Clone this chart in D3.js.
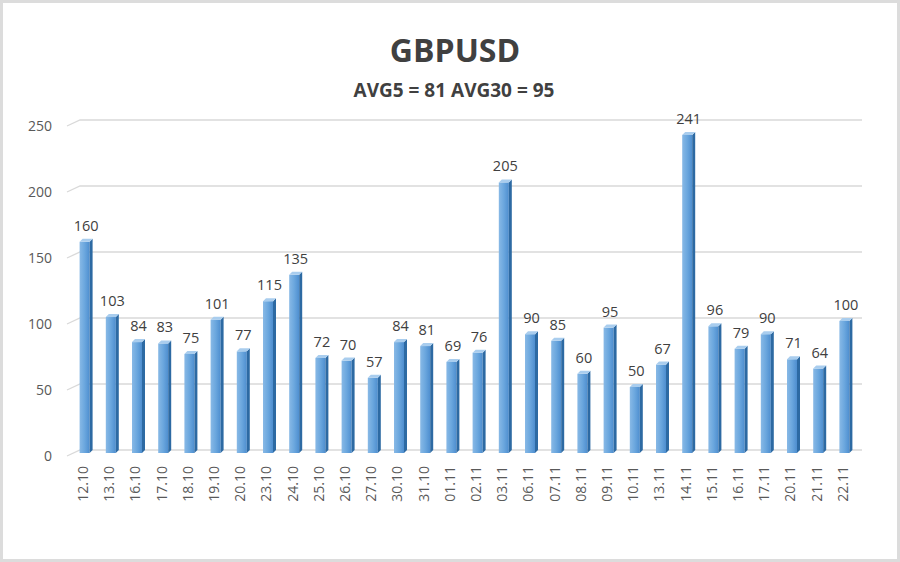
<!DOCTYPE html>
<html><head><meta charset="utf-8">
<script src="https://cdn.jsdelivr.net/npm/d3@7"></script>
<style>body{margin:0;background:#fff}svg{display:block}</style>
</head><body><svg id="c" width="900" height="562"></svg>
<script>
const categories = ["12.10","13.10","16.10","17.10","18.10","19.10","20.10","23.10","24.10","25.10","26.10","27.10","30.10","31.10","01.11","02.11","03.11","06.11","07.11","08.11","09.11","10.11","13.11","14.11","15.11","16.11","17.11","20.11","21.11","22.11"];
const values = [160,103,84,83,75,101,77,115,135,72,70,57,84,81,69,76,205,90,85,60,95,50,67,241,96,79,90,71,64,100];
const yTicks = [0,50,100,150,200,250];
const title = "GBPUSD";
const subtitle = "AVG5 = 81 AVG30 = 95";

const svg = d3.select("#c");
const W = 900, H = 562;
// frame
svg.append("rect").attr("x",1.5).attr("y",1.5).attr("width",W-3).attr("height",H-3)
  .attr("fill","#fff").attr("stroke","#dcdcdc").attr("stroke-width",3);

const defs = svg.append("defs");
const g1 = defs.append("linearGradient").attr("id","front").attr("x1","0").attr("x2","1").attr("y1","0").attr("y2","0");
g1.append("stop").attr("offset","0").attr("stop-color","#88b9e6");
g1.append("stop").attr("offset","0.5").attr("stop-color","#6ba7de");
g1.append("stop").attr("offset","1").attr("stop-color","#4e8ecf");

const x = d3.scaleBand().domain(categories).range([73,859]).paddingInner(0.6).paddingOuter(0.3);
const y = d3.scaleLinear().domain([0,250]).range([450,120]);
const dx = 6, dy = 6; // depth offset

// gridlines
const grid = svg.append("g");
yTicks.forEach(t => {
  const yy = y(t);
  grid.append("path")
    .attr("d", `M${67},${yy+dy} L${67+dx+7},${yy} L862,${yy}`)
    .attr("fill","none").attr("stroke", "#d9d9d9").attr("stroke-width", 1.3);
});

// y axis labels
svg.append("g").selectAll("text").data(yTicks).join("text")
  .attr("x", 52).attr("y", d => y(d)+dy).attr("dy","0.35em")
  .attr("text-anchor","end").attr("font-family","Open Sans, sans-serif")
  .attr("font-size",14).attr("fill","#595959").text(d=>d);

// bars
const bars = svg.append("g");
const bw = 10, sd = 3;
values.forEach((v,i) => {
  const c = x(categories[i]) + x.bandwidth()/2;
  const left = c - 6.5, right = left + bw;
  const top = y(v) + 3, bottom = y(0) + 3;
  bars.append("rect").attr("x",left).attr("y",top).attr("width",bw).attr("height",bottom-top).attr("fill","url(#front)");
  bars.append("path").attr("d",`M${right},${top} L${right+sd},${top-sd} L${right+sd},${bottom-sd} L${right},${bottom} Z`).attr("fill","#2d6aa3");
  bars.append("path").attr("d",`M${left},${top} L${left+sd},${top-sd} L${right+sd},${top-sd} L${right},${top} Z`).attr("fill","#a9cdee");
});

// value labels
svg.append("g").selectAll("text").data(values).join("text")
  .attr("x",(d,i)=> x(categories[i]) + x.bandwidth()/2)
  .attr("y", d => y(d) - 8)
  .attr("text-anchor","middle").attr("font-family","Open Sans, sans-serif")
  .attr("font-size",14.5).attr("fill","#404040").text(d=>d);

// x labels
svg.append("g").selectAll("text").data(categories).join("text")
  .attr("transform", d => `translate(${x(d)+x.bandwidth()/2 - 3},${466}) rotate(-90)`)
  .attr("text-anchor","end").attr("dy","0.35em")
  .attr("font-family","Open Sans, sans-serif").attr("font-size",14).attr("fill","#595959").text(d=>d);

// titles
svg.append("text").attr("x",455).attr("y",62).attr("text-anchor","middle")
  .attr("font-family","Open Sans, sans-serif").attr("font-weight","bold").attr("font-size",32)
  .attr("fill","#404040").text(title);
svg.append("text").attr("x",454).attr("y",97).attr("text-anchor","middle")
  .attr("font-family","Open Sans, sans-serif").attr("font-weight","bold").attr("font-size",19)
  .attr("fill","#404040").text(subtitle);
</script></body></html>
